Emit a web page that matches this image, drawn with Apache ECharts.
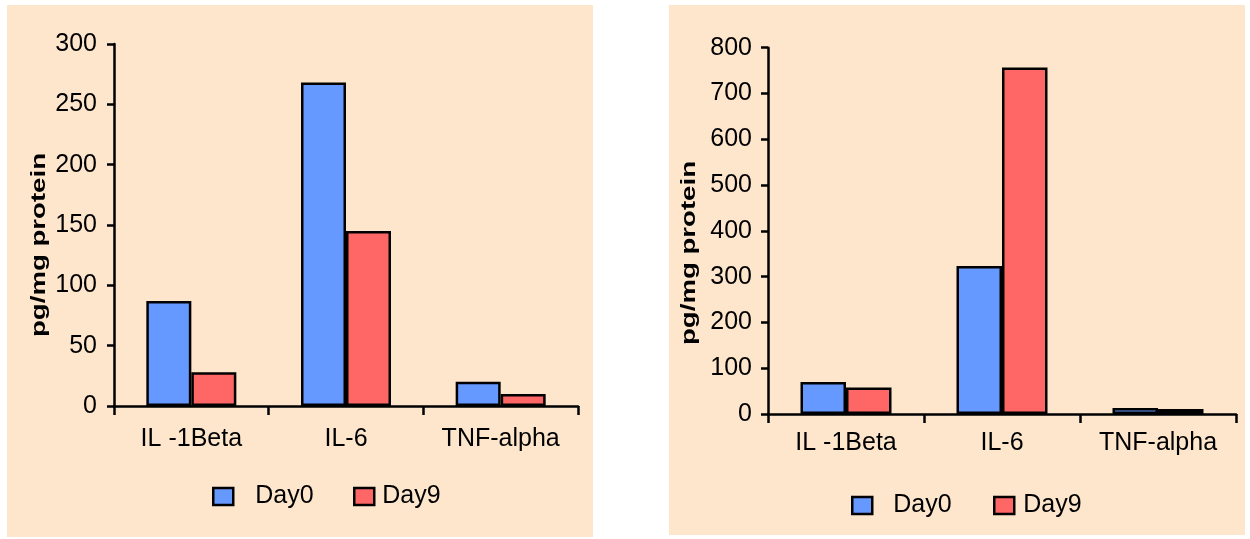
<!DOCTYPE html>
<html>
<head>
<meta charset="utf-8">
<style>
  html, body { margin: 0; padding: 0; background: #ffffff; }
  #chart { width: 1250px; height: 539px; }
</style>
<script src="https://cdn.jsdelivr.net/npm/echarts@6/dist/echarts.min.js"></script>
</head>
<body>
<div id="chart"></div>
<script>
// Cytokine levels (pg/mg protein), two experiments
const categories = ['IL -1Beta', 'IL-6', 'TNF-alpha'];
const seriesNames = ['Day0', 'Day9'];

const leftDay0 = [87, 268, 20];
const leftDay9 = [28, 145, 10];
const rightDay0 = [70, 323, 13];
const rightDay9 = [58, 757, 11];

const leftAxis = { min: 0, max: 300, interval: 50 };
const rightAxis = { min: 0, max: 800, interval: 100 };

const axisTitle = 'pg/mg protein';

const FONT = '"Liberation Sans", Arial, sans-serif';
const BLUE = '#6699FF';
const RED = '#FF6666';
const PANEL_BG = '#FEE6CD';
const LINE_W = 2.5;

const chart = echarts.init(document.getElementById('chart'));

function xAxisFor(gridIndex, margin) {
  return {
    type: 'category',
    gridIndex: gridIndex,
    data: categories,
    boundaryGap: true,
    axisLine: { lineStyle: { color: '#000', width: LINE_W } },
    axisTick: { show: true, length: 9, inside: false, alignWithLabel: false,
                lineStyle: { color: '#000', width: LINE_W } },
    axisLabel: { color: '#000', fontSize: 25, fontFamily: FONT, margin: margin, interval: 0 },
    splitLine: { show: false }
  };
}

function yAxisFor(gridIndex, range, margin) {
  return {
    type: 'value',
    gridIndex: gridIndex,
    min: range.min,
    max: range.max,
    interval: range.interval,
    axisLine: { show: true, lineStyle: { color: '#000', width: LINE_W } },
    axisTick: { show: true, length: 7, inside: false, lineStyle: { color: '#000', width: LINE_W } },
    axisLabel: { color: '#000', fontSize: 25, fontFamily: FONT, margin: margin },
    splitLine: { show: false }
  };
}

function barSeries(name, data, color, axisIndex, width) {
  return {
    name: name,
    type: 'bar',
    xAxisIndex: axisIndex,
    yAxisIndex: axisIndex,
    data: data,
    barWidth: width,
    barGap: '0%',
    itemStyle: { color: color, borderColor: '#000', borderWidth: LINE_W },
    emphasis: { disabled: true },
    animation: false
  };
}

function legendItem(name, color, left, top, textGap) {
  return {
    data: [{ name: name, itemStyle: { color: color, borderColor: '#000', borderWidth: LINE_W } }],
    left: left,
    top: top,
    padding: 0,
    icon: 'rect',
    itemWidth: 20,
    itemHeight: 17,
    selectedMode: false,
    textStyle: { color: '#000', fontSize: 25, fontFamily: FONT, padding: [0, 0, 0, textGap] }
  };
}

function titleText(x, y) {
  return {
    type: 'text',
    x: x,
    y: y,
    rotation: Math.PI / 2,
    scaleX: 1.38,
    scaleY: 1,
    z: 10,
    silent: true,
    style: {
      text: axisTitle,
      fill: '#000',
      font: 'bold 20px ' + FONT,
      textAlign: 'center',
      textVerticalAlign: 'middle'
    }
  };
}

const option = {
  backgroundColor: '#ffffff',
  animation: false,
  graphic: [
    { type: 'rect', z: -100, silent: true, shape: { x: 7, y: 5, width: 586, height: 532 }, style: { fill: PANEL_BG } },
    { type: 'rect', z: -100, silent: true, shape: { x: 669, y: 5, width: 576, height: 530 }, style: { fill: PANEL_BG } },
    titleText(39, 245),
    titleText(689, 253)
  ],
  grid: [
    { left: 114, top: 44, width: 464, height: 362, containLabel: false },
    { left: 768, top: 47.7, width: 468, height: 366.3, containLabel: false }
  ],
  legend: [
    legendItem('Day0', BLUE, 212, 484, 17),
    legendItem('Day9', RED, 353, 484, 3),
    legendItem('Day0', BLUE, 851, 493, 16),
    legendItem('Day9', RED, 993, 493, 4)
  ],
  xAxis: [xAxisFor(0, 21), xAxisFor(1, 17)],
  yAxis: [yAxisFor(0, leftAxis, 17), yAxisFor(1, rightAxis, 16)],
  series: [
    barSeries(seriesNames[0], leftDay0, BLUE, 0, 45),
    barSeries(seriesNames[1], leftDay9, RED, 0, 45),
    barSeries(seriesNames[0], rightDay0, BLUE, 1, 45.5),
    barSeries(seriesNames[1], rightDay9, RED, 1, 45.5)
  ]
};

chart.setOption(option);
</script>
</body>
</html>
